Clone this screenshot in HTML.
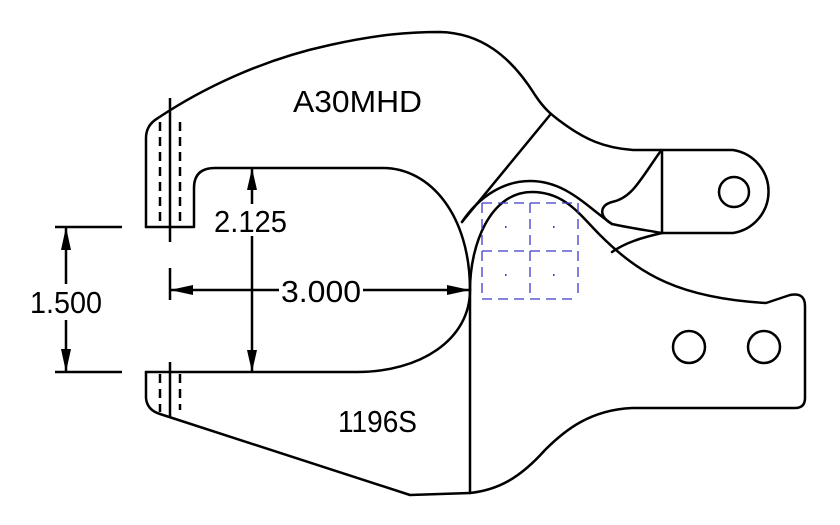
<!DOCTYPE html>
<html><head><meta charset="utf-8"><style>
html,body{margin:0;padding:0;background:#fff;}
svg{display:block}
text{font-family:"Liberation Sans",sans-serif;fill:#000}
</style></head><body>
<svg width="840" height="525" viewBox="0 0 840 525" xmlns="http://www.w3.org/2000/svg">
<g fill="none" stroke="#000" stroke-width="2.5" stroke-linecap="round" stroke-linejoin="round">
<!-- upper jaw outer -->
<path d="M146,227 L146,138 Q146,125 158,118 C200,90 260,60 330,45 C380,34 410,32 440,32 C480,33 510,55 535,95 C545,110 552,115 560,121 C585,140 605,148 633,150 L733,150 A42,42 0 0 1 733,233 L662,233"/>
<path d="M146,227 L194,227 L194,188 Q194,168 215,168 L383,168 C430,168 470,215 470,290"/>
<path d="M146,372 L357,372 C420,372 470,340 470,290"/>
<!-- diagonal -->
<path d="M550,115 L462,222"/>
<path d="M662,150 L662,233"/>
<!-- hook -->
<path d="M660,152 C640,180 632,198 612,202 C600,205 598,216 612,224 C630,228 645,230 662,233"/>
<path d="M612,252 C625,243 640,238 662,233"/>
<!-- outer hump -->
<path d="M462,222 C480,195 505,181 530,181 C565,181 585,205 612,224"/>
<!-- inner hump + lower jaw right -->
<path d="M470,290 C470,245 490,192 532,192 C565,192 580,215 600,235 C640,275 680,298 766,303 L790,295 Q805,292 805,306 L805,398 Q805,408 795,408 L632,408 C590,410 565,430 545,450 C520,478 498,490 470,493"/>
<path d="M470,290 L470,493"/>
<!-- lower jaw outer -->
<path d="M146,372 L146,398 Q147,410 160,414 L410,495 L470,493"/>
<circle cx="734" cy="192" r="15"/>
<circle cx="689" cy="347" r="16"/>
<circle cx="764" cy="347" r="16"/>
</g>
<g stroke="#000" stroke-width="2.5" fill="none">
<path d="M170,98 L170,242 M170,268 L170,300 M170,362 L170,418"/>
<path d="M160,122 L160,227 M180,122 L180,227 M160,374 L160,412 M180,374 L180,410" stroke-dasharray="9,6"/>
<!-- dims -->
<path d="M252,168 L252,372"/>
<path d="M170,290 L470,290"/>
<path d="M66,227 L66,372 M55,227 L122,227 M55,372 L122,372"/>
</g>
<g fill="#000">
<path d="M252,168 L247,190 L257,190Z M252,372 L247,350 L257,350Z"/>
<path d="M170,290 L193,285 L193,295Z M470,290 L447,285 L447,295Z"/>
<path d="M66,227 L61,250 L71,250Z M66,372 L61,349 L71,349Z"/>
</g>
<rect x="213" y="204" width="76" height="32" fill="#fff"/>
<rect x="279" y="276" width="84" height="30" fill="#fff"/>
<rect x="28" y="284" width="76" height="36" fill="#fff"/>
<text x="214" y="232" font-size="31" textLength="73" lengthAdjust="spacingAndGlyphs">2.125</text>
<text x="281" y="302" font-size="31" textLength="80" lengthAdjust="spacingAndGlyphs">3.000</text>
<text x="30" y="313" font-size="31" textLength="72" lengthAdjust="spacingAndGlyphs">1.500</text>
<text x="293" y="112" font-size="31" textLength="129" lengthAdjust="spacingAndGlyphs">A30MHD</text>
<text x="338" y="432" font-size="31" textLength="79" lengthAdjust="spacingAndGlyphs">1196S</text>
<g stroke="#3b3bc8" stroke-width="1.3" fill="none" stroke-dasharray="10,6">
<path d="M482,203 L578,203 M482,251 L578,251 M482,299 L578,299"/>
<path d="M482,203 L482,299 M530,203 L530,299 M578,203 L578,299"/>
</g>
<g fill="#3b3bc8"><rect x="505" y="226" width="1.5" height="2"/><rect x="553" y="226" width="1.5" height="2"/><rect x="505" y="274" width="1.5" height="2"/><rect x="553" y="274" width="1.5" height="2"/></g>
</svg>
</body></html>
